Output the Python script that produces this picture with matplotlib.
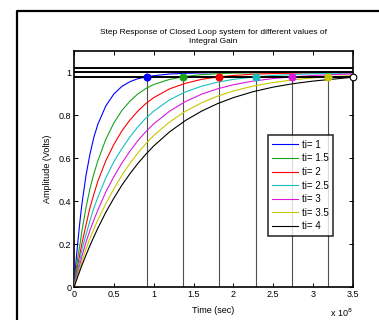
import matplotlib
matplotlib.use("Agg")
import matplotlib.pyplot as plt
from matplotlib.lines import Line2D

plt.rcParams['font.family'] = ['Liberation Sans', 'DejaVu Sans']

# time axis in units of 1e8 s
t = [0, 0.025, 0.05, 0.075, 0.1, 0.15, 0.2, 0.25, 0.3, 0.4, 0.5, 0.6, 0.7, 0.8,
     0.9, 1.0, 1.2, 1.4, 1.6, 1.8, 2.0, 2.25, 2.5, 2.75, 3.0, 3.25, 3.5]

labels = ["ti= 1", "ti= 1.5", "ti= 2", "ti= 2.5", "ti= 3", "ti= 3.5", "ti= 4"]

y_ti1 = [0, 0.12, 0.22, 0.31, 0.39, 0.52, 0.62, 0.70, 0.76, 0.845, 0.90, 0.935, 0.957, 0.971,
         0.979, 0.985, 0.993, 0.996, 0.998, 0.999, 1.0, 1.0, 1.0, 1.0, 1.0, 1.0, 1.0]
y_ti15 = [0, 0.08, 0.145, 0.20, 0.265, 0.37, 0.46, 0.53, 0.59, 0.69, 0.765, 0.823, 0.866, 0.90,
          0.925, 0.944, 0.968, 0.982, 0.99, 0.994, 0.997, 0.998, 0.999, 1.0, 1.0, 1.0, 1.0]
y_ti2 = [0, 0.055, 0.108, 0.158, 0.205, 0.29, 0.37, 0.435, 0.495, 0.59, 0.665, 0.728, 0.778, 0.82,
         0.855, 0.883, 0.924, 0.95, 0.968, 0.979, 0.986, 0.992, 0.995, 0.997, 0.998, 0.999, 0.999]
y_ti25 = [0, 0.045, 0.088, 0.13, 0.175, 0.245, 0.31, 0.37, 0.42, 0.51, 0.585, 0.645, 0.699, 0.747,
          0.787, 0.82, 0.873, 0.91, 0.936, 0.955, 0.968, 0.979, 0.986, 0.991, 0.994, 0.996, 0.998]
y_ti3 = [0, 0.037, 0.073, 0.108, 0.145, 0.21, 0.265, 0.315, 0.36, 0.445, 0.515, 0.578, 0.633, 0.682,
         0.724, 0.761, 0.82, 0.865, 0.899, 0.924, 0.943, 0.96, 0.972, 0.98, 0.986, 0.99, 0.993]
y_ti35 = [0, 0.031, 0.062, 0.092, 0.12, 0.178, 0.228, 0.272, 0.315, 0.39, 0.458, 0.521, 0.576, 0.625,
          0.668, 0.707, 0.77, 0.82, 0.859, 0.89, 0.914, 0.937, 0.953, 0.966, 0.975, 0.981, 0.986]
y_ti4 = [0, 0.027, 0.053, 0.078, 0.103, 0.15, 0.194, 0.236, 0.276, 0.35, 0.415, 0.475, 0.528, 0.576,
         0.619, 0.658, 0.724, 0.777, 0.82, 0.855, 0.883, 0.911, 0.932, 0.948, 0.96, 0.969, 0.978]

settle_t = [0.912, 1.364, 1.819, 2.279, 2.731, 3.19, 3.5]
settle_y = [0.98, 0.98, 0.98, 0.98, 0.98, 0.98, 0.978]

band_levels = [1.02, 1.0, 0.98]

x_ticks = [0, 0.5, 1, 1.5, 2, 2.5, 3, 3.5]
y_ticks = [0, 0.2, 0.4, 0.6, 0.8, 1]

series = [y_ti1, y_ti15, y_ti2, y_ti25, y_ti3, y_ti35, y_ti4]
colors = ['#0000ff', '#1ca31c', '#ff0000', '#18bfbf', '#dd18dd', '#c8c800', '#000000']

fig = plt.figure(figsize=(3.79, 3.2), dpi=100)
fig.patch.set_facecolor('white')
ax = fig.add_axes([0.1953, 0.1022, 0.7361, 0.7384])

handles = []
for ys, c, lab in zip(series, colors, labels):
    h, = ax.plot(t, ys, color=c, lw=0.8, label=lab, zorder=3)
    handles.append(h)

for lv in band_levels:
    ax.axhline(lv, color='black', lw=1.4, zorder=4)

for i, (st, sy, c) in enumerate(zip(settle_t, settle_y, colors)):
    if i < len(settle_t) - 1:
        ax.plot([st, st], [0, sy], color='#505050', lw=0.8, zorder=2)
        ax.plot([st], [sy], 'o', color=c, markersize=4.8, zorder=6, markeredgecolor=c)
    else:
        ax.plot([st], [sy], 'o', markerfacecolor='white', markeredgecolor='black',
                markersize=4.8, markeredgewidth=0.8, zorder=6, clip_on=False)

ax.set_xlim(0, 3.5)
ax.set_ylim(0, 1.1)
ax.set_xticks(x_ticks)
ax.set_xticklabels(['0', '0.5', '1', '1.5', '2', '2.5', '3', '3.5'])
ax.set_yticks(y_ticks)
ax.set_yticklabels(['0', '0.2', '0.4', '0.6', '0.8', '1'])
ax.tick_params(direction='in', length=3, width=0.7, labelsize=6.5, top=True, right=True,
               pad=2, colors='black')
for sp in ax.spines.values():
    sp.set_linewidth(1.2)

ax.set_title("Step Response of Closed Loop system for different values of\nIntegral Gain",
             fontsize=6, pad=6, linespacing=1.25)
ax.set_xlabel("Time (sec)", fontsize=6.5, labelpad=5)
ax.set_ylabel("Amplitude (Volts)", fontsize=6.5, labelpad=5)
ax.text(1.0, -0.125, r'x 10$^{8}$', transform=ax.transAxes, ha='right', va='baseline',
        fontsize=6.5)

leg = ax.legend(handles=handles, loc='upper left', bbox_to_anchor=(0.694, 0.6445),
                fontsize=7, frameon=True, fancybox=False, handlelength=2.6,
                labelspacing=0.37, borderpad=0.5, handletextpad=0.4, borderaxespad=0)
leg.get_frame().set_edgecolor('black')
leg.get_frame().set_linewidth(1.2)
leg.set_zorder(10)

# outer frame (cut off at the right and bottom)
fig.add_artist(Line2D([17/379, 17/379, 1.02], [-0.02, 1 - 11/320, 1 - 11/320],
                      transform=fig.transFigure, color='black', lw=1.6))

fig.savefig('out.png', dpi=100)
